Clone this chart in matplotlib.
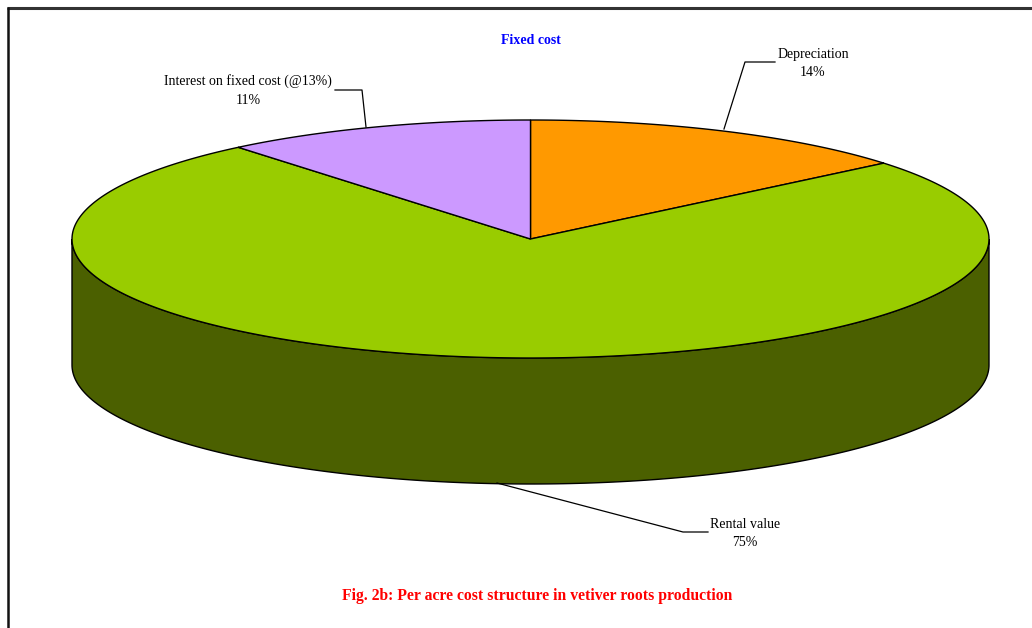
import numpy as np
import matplotlib.pyplot as plt
from matplotlib.patches import Polygon

# Fixed cost shares (per cent), clockwise from 12 o'clock
labels = ["Depreciation", "Rental value", "Interest on fixed cost (@13%)"]
shares = [14, 75, 11]
colors = ["#FF9900", "#99CC00", "#CC99FF"]
side_colors = ["#7F4C00", "#4B6000", "#66507F"]

title = "Fixed cost"
caption = "Fig. 2b: Per acre cost structure in vetiver roots production"

plt.rcParams["font.family"] = ["Liberation Serif", "DejaVu Serif"]

W, H = 1032, 628
fig = plt.figure(figsize=(W / 100, H / 100), dpi=100)
ax = fig.add_axes([0, 0, 1, 1])
ax.set_xlim(0, W)
ax.set_ylim(H, 0)
ax.axis("off")

# ellipse geometry of the pie (pixel units)
cx, cy = 530.5, 239.0
rx, ry = 458.5, 119.0
depth = 126.0


def rim(theta_deg, dy=0.0):
    t = np.radians(theta_deg)
    return np.column_stack([cx + rx * np.cos(t), cy - ry * np.sin(t) + dy])


fracs = np.array(shares, dtype=float) / sum(shares)
ends = 90 - 360 * np.cumsum(fracs)
starts = np.concatenate([[90.0], ends[:-1]])

# front side wall: the visible part is the lower half of the ellipse (180..360 deg)
for a0, a1, sc in zip(starts, ends, side_colors):
    lo, hi = min(a0, a1), max(a0, a1)
    for shift in (0, 360, -360):
        s0 = max(lo + shift, 180)
        s1 = min(hi + shift, 360)
        if s1 > s0:
            th = np.linspace(s0, s1, 200)
            pts = np.vstack([rim(th), rim(th[::-1], depth)])
            ax.add_patch(Polygon(pts, closed=True, facecolor=sc,
                                 edgecolor="black", linewidth=1.0, zorder=2))

# top face wedges
for a0, a1, c in zip(starts, ends, colors):
    th = np.linspace(a0, a1, 300)
    pts = np.vstack([[cx, cy], rim(th)])
    ax.add_patch(Polygon(pts, closed=True, facecolor=c,
                         edgecolor="black", linewidth=1.0, zorder=3))

# labels with leader lines
fs = 10
label_spec = [
    # (label index, line points, text x, text y)
    (0, [(724, 129), (745, 62), (775, 62)], 813, 63.5),
    (1, [(497, 483), (683, 532), (708, 532)], 745, 533.5),
    (2, [(366, 127), (362, 90), (335, 90)], 248, 90.5),
]
for i, line, tx, ty in label_spec:
    xs, ys = zip(*line)
    ax.plot(xs, ys, color="black", linewidth=0.9, zorder=4)
    ax.text(tx, ty, f"{labels[i]}\n{shares[i]}%", ha="center", va="center",
            fontsize=fs, linespacing=1.55, zorder=5)

ax.text(531, 41, title, ha="center", va="center", fontsize=10,
        fontweight="bold", color="#0000FF")
ax.text(537, 596, caption, ha="center", va="center", fontsize=11.3,
        fontweight="bold", color="#FF0000")

# page frame (top and left rules)
ax.plot([7, W + 5], [7.5, 7.5], color="#333333", linewidth=2.2,
        solid_capstyle="butt", clip_on=False)
ax.plot([7.5, 7.5], [7, H + 5], color="#111111", linewidth=1.8,
        solid_capstyle="butt", clip_on=False)

fig.savefig("out.png", dpi=100)
